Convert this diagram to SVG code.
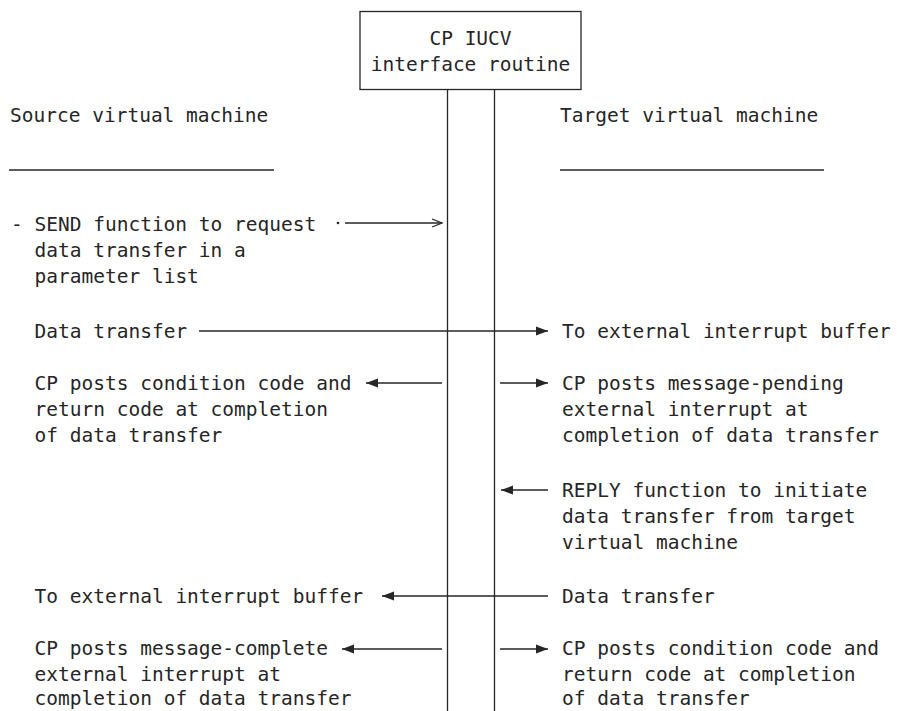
<svg xmlns="http://www.w3.org/2000/svg" width="897" height="711" viewBox="0 0 897 711">
<style>
text{font-family:"DejaVu Sans Mono","Liberation Mono",monospace;font-size:19.5px;fill:#262626}
.ln{stroke:#262626;stroke-width:1.3;fill:none}
.ah{fill:#262626;stroke:none}
</style>
<defs>
<marker id="fa" markerUnits="userSpaceOnUse" markerWidth="13" markerHeight="10" refX="12" refY="5" orient="auto">
<path d="M0,0.5 L12,5 L0,9.5 Z" class="ah"/>
</marker>
</defs>
<rect width="897" height="711" fill="#fff"/>
<g id="cp-iucv">
<rect x="360" y="11.5" width="221" height="78" class="ln"/>
<text x="470.5" y="45" text-anchor="middle">CP IUCV</text>
<text x="470.5" y="71" text-anchor="middle">interface routine</text>
</g>
<g id="source-vm">
<text x="10" y="122">Source virtual machine</text>
<line x1="9" y1="170" x2="274" y2="170" class="ln"/>
</g>
<g id="target-vm">
<text x="560" y="122">Target virtual machine</text>
<line x1="560" y1="170" x2="824" y2="170" class="ln"/>
</g>
<g id="left-texts">
<text x="11" y="231">- SEND function to request</text>
<text x="34.5" y="257">data transfer in a</text>
<text x="34.5" y="283">parameter list</text>
<text x="34.5" y="338">Data transfer</text>
<text x="34.5" y="390">CP posts condition code and</text>
<text x="34.5" y="416">return code at completion</text>
<text x="34.5" y="442">of data transfer</text>
<text x="34.5" y="603">To external interrupt buffer</text>
<text x="34.5" y="655">CP posts message-complete</text>
<text x="34.5" y="681">external interrupt at</text>
<text x="34.5" y="705">completion of data transfer</text>
</g>
<g id="right-texts">
<text x="562" y="338">To external interrupt buffer</text>
<text x="562" y="390">CP posts message-pending</text>
<text x="562" y="416">external interrupt at</text>
<text x="562" y="442">completion of data transfer</text>
<text x="562" y="497">REPLY function to initiate</text>
<text x="562" y="523">data transfer from target</text>
<text x="562" y="549">virtual machine</text>
<text x="562" y="603">Data transfer</text>
<text x="562" y="655">CP posts condition code and</text>
<text x="562" y="681">return code at completion</text>
<text x="562" y="705">of data transfer</text>
</g>
<g id="connectors">
<line x1="447.5" y1="89.5" x2="447.5" y2="711" class="ln"/>
<line x1="494.5" y1="89.5" x2="494.5" y2="711" class="ln"/>
<circle cx="338" cy="223" r="1.3" class="ah"/>
<line x1="345" y1="223" x2="442" y2="223" class="ln"/>
<path d="M432,219 L442,223 L432,227" class="ln"/>
<line x1="199" y1="331" x2="548" y2="331" class="ln" marker-end="url(#fa)"/>
<line x1="442" y1="383" x2="366" y2="383" class="ln" marker-end="url(#fa)"/>
<line x1="500" y1="383" x2="548" y2="383" class="ln" marker-end="url(#fa)"/>
<line x1="548" y1="490" x2="501" y2="490" class="ln" marker-end="url(#fa)"/>
<line x1="548" y1="596" x2="382" y2="596" class="ln" marker-end="url(#fa)"/>
<line x1="442" y1="649" x2="342" y2="649" class="ln" marker-end="url(#fa)"/>
<line x1="500" y1="649" x2="548" y2="649" class="ln" marker-end="url(#fa)"/>
</g>
</svg>
